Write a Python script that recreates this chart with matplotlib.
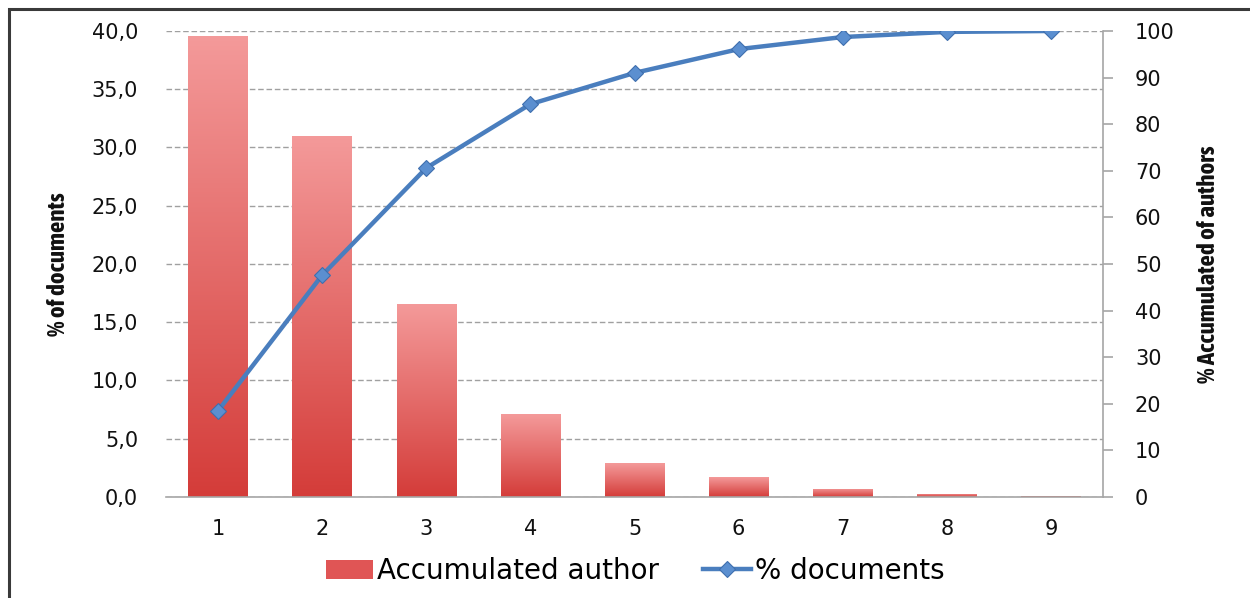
import numpy as np
import matplotlib
matplotlib.use("Agg")
from matplotlib import pyplot as plt
from matplotlib import font_manager
from matplotlib.patches import Rectangle
from matplotlib.ticker import FuncFormatter

# Data
categories = [1, 2, 3, 4, 5, 6, 7, 8, 9]
accumulated_author = [39.6, 31.0, 16.6, 7.1, 2.9, 1.7, 0.7, 0.3, 0.1]
pct_documents = [18.5, 47.6, 70.6, 84.3, 91.0, 96.1, 98.7, 99.8, 100.0]

left_ticks = [0, 5, 10, 15, 20, 25, 30, 35, 40]
right_ticks = [0, 10, 20, 30, 40, 50, 60, 70, 80, 90, 100]

plt.rcParams["font.family"] = ["DejaVu Sans"]


def _is_bold(f):
    w = f.weight
    return (isinstance(w, int) and w >= 600) or str(w).lower() in ("bold", "semibold", "demibold", "heavy", "black")


# narrow bold font for the axis titles if one is installed
fonts = font_manager.fontManager.ttflist
narrow = [f.name for f in fonts
          if ("Narrow" in f.name or "Condensed" in f.name) and _is_bold(f)]
if not narrow:
    narrow = [f.name for f in fonts if "Narrow" in f.name or "Condensed" in f.name]
label_family = [narrow[0]] if narrow else ["Liberation Sans"]
label_size = 18 if narrow else 13

fig = plt.figure(figsize=(12.5, 5.98), dpi=100)
ax = fig.add_axes([0.1328, 0.1689, 0.7496, 0.7793])
ax2 = ax.twinx()

# Outer frame (runs off the right and bottom edges in the reference)
fig.patches.append(Rectangle((9 / 1250, -0.05), 1.1, (598 - 9) / 598 + 0.05,
                             transform=fig.transFigure, fill=False,
                             edgecolor="#3a3a3a", linewidth=2.2, zorder=0))

# Gradient bars
gradient = np.linspace(0, 1, 256).reshape(-1, 1)
cmap = matplotlib.colors.LinearSegmentedColormap.from_list(
    "barfade", ["#d43c39", "#f49a9a"])
bars = ax.bar(categories, accumulated_author, width=0.57, color="none",
              edgecolor="none", zorder=2)
for b in bars:
    x0, y0 = b.get_x(), b.get_y()
    w, h = b.get_width(), b.get_height()
    im = ax.imshow(gradient, cmap=cmap, aspect="auto", origin="lower",
                   extent=[x0, x0 + w, y0, y0 + h], zorder=2)
    im.set_clip_path(b)

ax.set_xlim(0.5, 9.5)
ax.set_ylim(0, 40)
ax.set_yticks(left_ticks)
ax.yaxis.set_major_formatter(FuncFormatter(lambda v, p: f"{v:.1f}".replace(".", ",")))
ax.set_xticks(categories)
ax.tick_params(axis="y", length=0, pad=20, labelsize=15, colors="#111111")
ax.tick_params(axis="x", length=0, pad=16, labelsize=15, colors="#111111")
ax.grid(axis="y", linestyle=(0, (4, 2)), color="#a0a0a0", linewidth=1.0, zorder=1)
ax.set_axisbelow(True)
for s in ["top", "left", "right"]:
    ax.spines[s].set_visible(False)
ax.spines["bottom"].set_color("#a6a6a6")
ax.spines["bottom"].set_linewidth(1.2)

label_font = dict(family=label_family, fontsize=label_size,
                  fontweight="bold", color="#111111")
ax.set_ylabel("% of documents", labelpad=16, **label_font)

# Line on secondary axis
line, = ax2.plot(categories, pct_documents, color="#4a7ebe", linewidth=3.2,
                 marker="D", markersize=8.5, markerfacecolor="#5b8fd0",
                 markeredgecolor="#3f6fae", markeredgewidth=0.8, zorder=3)
ax2.set_ylim(0, 100)
ax2.set_yticks(right_ticks)
ax2.tick_params(axis="y", length=7, width=1.2, color="#a6a6a6", pad=16,
                labelsize=15, labelcolor="#111111")
for s in ["top", "left", "bottom"]:
    ax2.spines[s].set_visible(False)
ax2.spines["right"].set_color("#a6a6a6")
ax2.spines["right"].set_linewidth(1.2)
ax2.set_ylabel("% Accumulated of authors", labelpad=16, **label_font)

# Legend
proxy = Rectangle((0, 0), 1, 1, facecolor="#e05555", edgecolor="none")
fig.legend([proxy, line], ["Accumulated author", "% documents"],
           loc="lower center", bbox_to_anchor=(0.508, -0.02), ncol=2,
           frameon=False, fontsize=20, handlelength=1.7, handletextpad=0.15,
           columnspacing=1.6)

fig.savefig("out.png", dpi=100)
